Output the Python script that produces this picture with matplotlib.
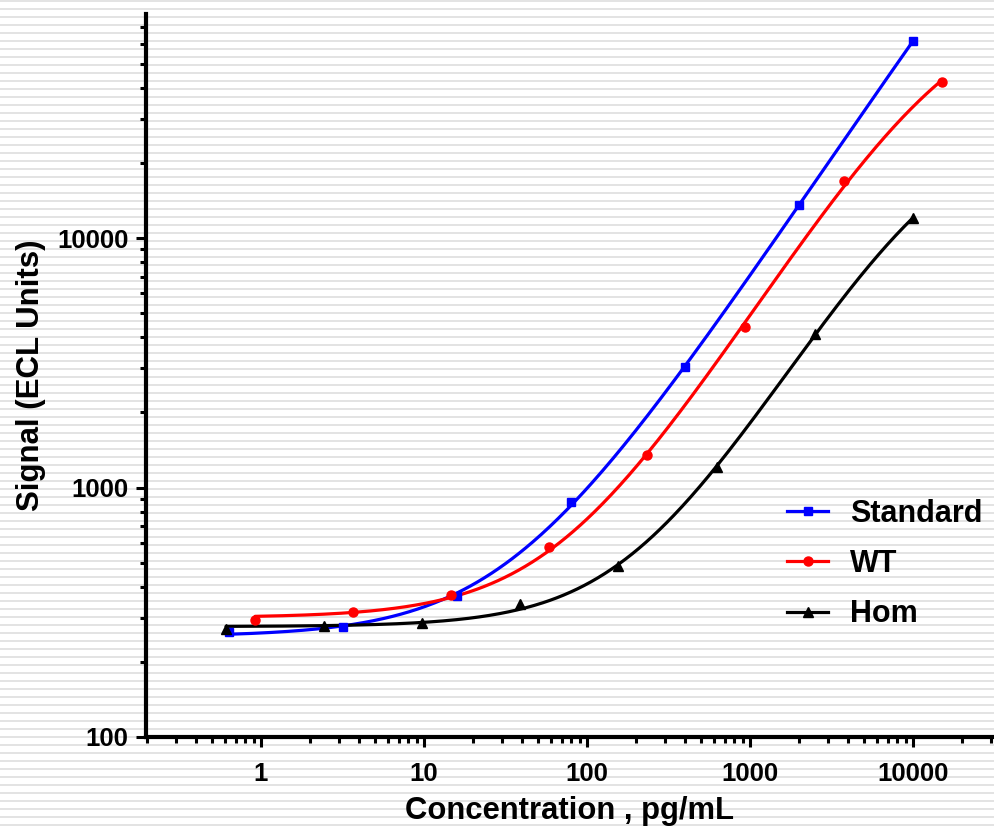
import numpy as np
import matplotlib
matplotlib.use("Agg")
import matplotlib.pyplot as plt
import matplotlib.transforms as mtransforms
from matplotlib.ticker import LogLocator, FixedLocator, FuncFormatter, NullFormatter

# ---- data ----
std_x = [0.64, 3.2, 16, 80, 400, 2000, 10000]
std_y = [264, 276, 367, 875, 3040, 13560, 61600]

wt_x = [0.92, 3.66, 14.6, 58.6, 234, 938, 3750, 15000]
wt_y = [294, 317, 371, 577, 1349, 4397, 16920, 42200]

hom_x = [0.61, 2.44, 9.77, 39, 156, 625, 2500, 10000]
hom_y = [271, 279, 287, 341, 484, 1208, 4123, 12020]

series_names = ["Standard", "WT", "Hom"]
x_ticks = [1, 10, 100, 1000, 10000]
y_ticks = [100, 1000, 10000]

FONT = ["Liberation Sans", "DejaVu Sans"]
plt.rcParams["font.family"] = FONT
plt.rcParams["font.weight"] = "bold"


def model(p, lx):
    la, ld, lc, b = p
    e = np.clip(b * (lx - lc), -60, 60)
    a = 10.0 ** la
    d = 10.0 ** ld
    return np.log10(d + (a - d) / (1.0 + 10.0 ** e))


def fit4pl(x, y):
    lx = np.log10(np.asarray(x, float))
    ly = np.log10(np.asarray(y, float))
    p = np.array([ly.min() - 0.01, ly.max() + 0.5, lx.max(), 1.0])

    def sse(q):
        r = model(q, lx) - ly
        return float(r @ r)

    cur = sse(p)
    lam = 1e-2
    for _ in range(3000):
        r = model(p, lx) - ly
        J = np.empty((len(lx), 4))
        for k in range(4):
            dp = np.zeros(4)
            dp[k] = 1e-6
            J[:, k] = (model(p + dp, lx) - model(p, lx)) / 1e-6
        A = J.T @ J
        g = J.T @ r
        try:
            step = np.linalg.solve(A + lam * np.diag(np.diag(A) + 1e-12), -g)
        except np.linalg.LinAlgError:
            lam *= 10
            continue
        pn = p + step
        pn[1] = min(pn[1], 7.0)
        pn[3] = np.clip(pn[3], 0.2, 5.0)
        new = sse(pn)
        if new < cur:
            p, cur = pn, new
            lam = max(lam * 0.3, 1e-12)
        else:
            lam *= 10
        if lam > 1e12:
            break
    return p


W, H = 994, 826
fig = plt.figure(figsize=(W / 100, H / 100), dpi=100)
fig.patch.set_facecolor("white")

# striped background
bg = fig.add_axes([0, 0, 1, 1], zorder=0)
bg.set_xlim(0, 1)
bg.set_ylim(H, 0)
bg.axis("off")
bg.hlines(np.arange(0.8, H, 8.0), 0, 1, color="#e0e0e0", lw=1.3)

left, right_px, top_px, bottom_px = 146, 994, 14, 737
ax = fig.add_axes([left / W, 1 - bottom_px / H, (right_px - left) / W,
                   (bottom_px - top_px) / H], zorder=1)
ax.set_facecolor("none")
ax.set_xscale("log")
ax.set_yscale("log")
ax.set_xlim(10 ** ((146 - 261) / 163.0), 10 ** ((994 - 261) / 163.0))
ax.set_ylim(100, 10 ** (2 + (737 - 14) / 249.5))

styles = [
    (std_x, std_y, "#0000ff", "s", 6.0),
    (wt_x, wt_y, "#ff0000", "o", 6.5),
    (hom_x, hom_y, "#000000", "^", 7.0),
]
handles = []
for (xs, ys, col, mk, ms), name in zip(styles, series_names):
    p = fit4pl(xs, ys)
    xx = np.logspace(np.log10(min(xs)), np.log10(max(xs)), 400)
    yy = 10 ** model(p, np.log10(xx))
    ax.plot(xx, yy, color=col, lw=2.3, solid_capstyle="round", zorder=3)
    ax.plot(xs, ys, linestyle="none", marker=mk, color=col, ms=ms, zorder=4,
            clip_on=False)
    h, = ax.plot([], [], color=col, lw=2.3, marker=mk, ms=ms, label=name)
    handles.append(h)

for s in ["top", "right"]:
    ax.spines[s].set_visible(False)
for s in ["left", "bottom"]:
    ax.spines[s].set_linewidth(3.0)

ax.xaxis.set_major_locator(FixedLocator(x_ticks))
ax.yaxis.set_major_locator(FixedLocator(y_ticks))
ax.xaxis.set_minor_locator(LogLocator(base=10, subs=np.arange(2, 10), numticks=20))
ax.yaxis.set_minor_locator(LogLocator(base=10, subs=np.arange(2, 10), numticks=20))
fmt = FuncFormatter(lambda v, pos: "%g" % v)
ax.xaxis.set_major_formatter(fmt)
ax.yaxis.set_major_formatter(fmt)
ax.xaxis.set_minor_formatter(NullFormatter())
ax.yaxis.set_minor_formatter(NullFormatter())

ax.tick_params(which="major", direction="out", length=7.2, width=2.2,
               labelsize=18.5, color="black")
ax.tick_params(which="minor", direction="out", length=4.3, width=2.2,
               color="black")
ax.tick_params(axis="x", which="major", pad=10.5)
ax.tick_params(axis="y", which="major", pad=5.5)
for lab in ax.get_xticklabels() + ax.get_yticklabels():
    lab.set_fontweight("bold")

ax.set_xlabel("Concentration , pg/mL", fontsize=22.3, fontweight="bold")
ax.set_ylabel("Signal (ECL Units)", fontsize=22.5, fontweight="bold")
ax.xaxis.set_label_coords(569.5 / W, 1 - 796 / H, transform=fig.transFigure)
ax.yaxis.set_label_coords(46 / W, 0.5, transform=mtransforms.blended_transform_factory(
    fig.transFigure, ax.transAxes))

leg = ax.legend(handles=handles, loc="upper left",
                bbox_to_anchor=(787 / W, 1 - 499 / H),
                bbox_transform=fig.transFigure, frameon=False,
                prop={"size": 22, "weight": "bold"}, handlelength=1.35,
                handletextpad=0.7, labelspacing=0.66, borderpad=0,
                borderaxespad=0, numpoints=1)

fig.savefig("out.png", dpi=100, facecolor="white")
